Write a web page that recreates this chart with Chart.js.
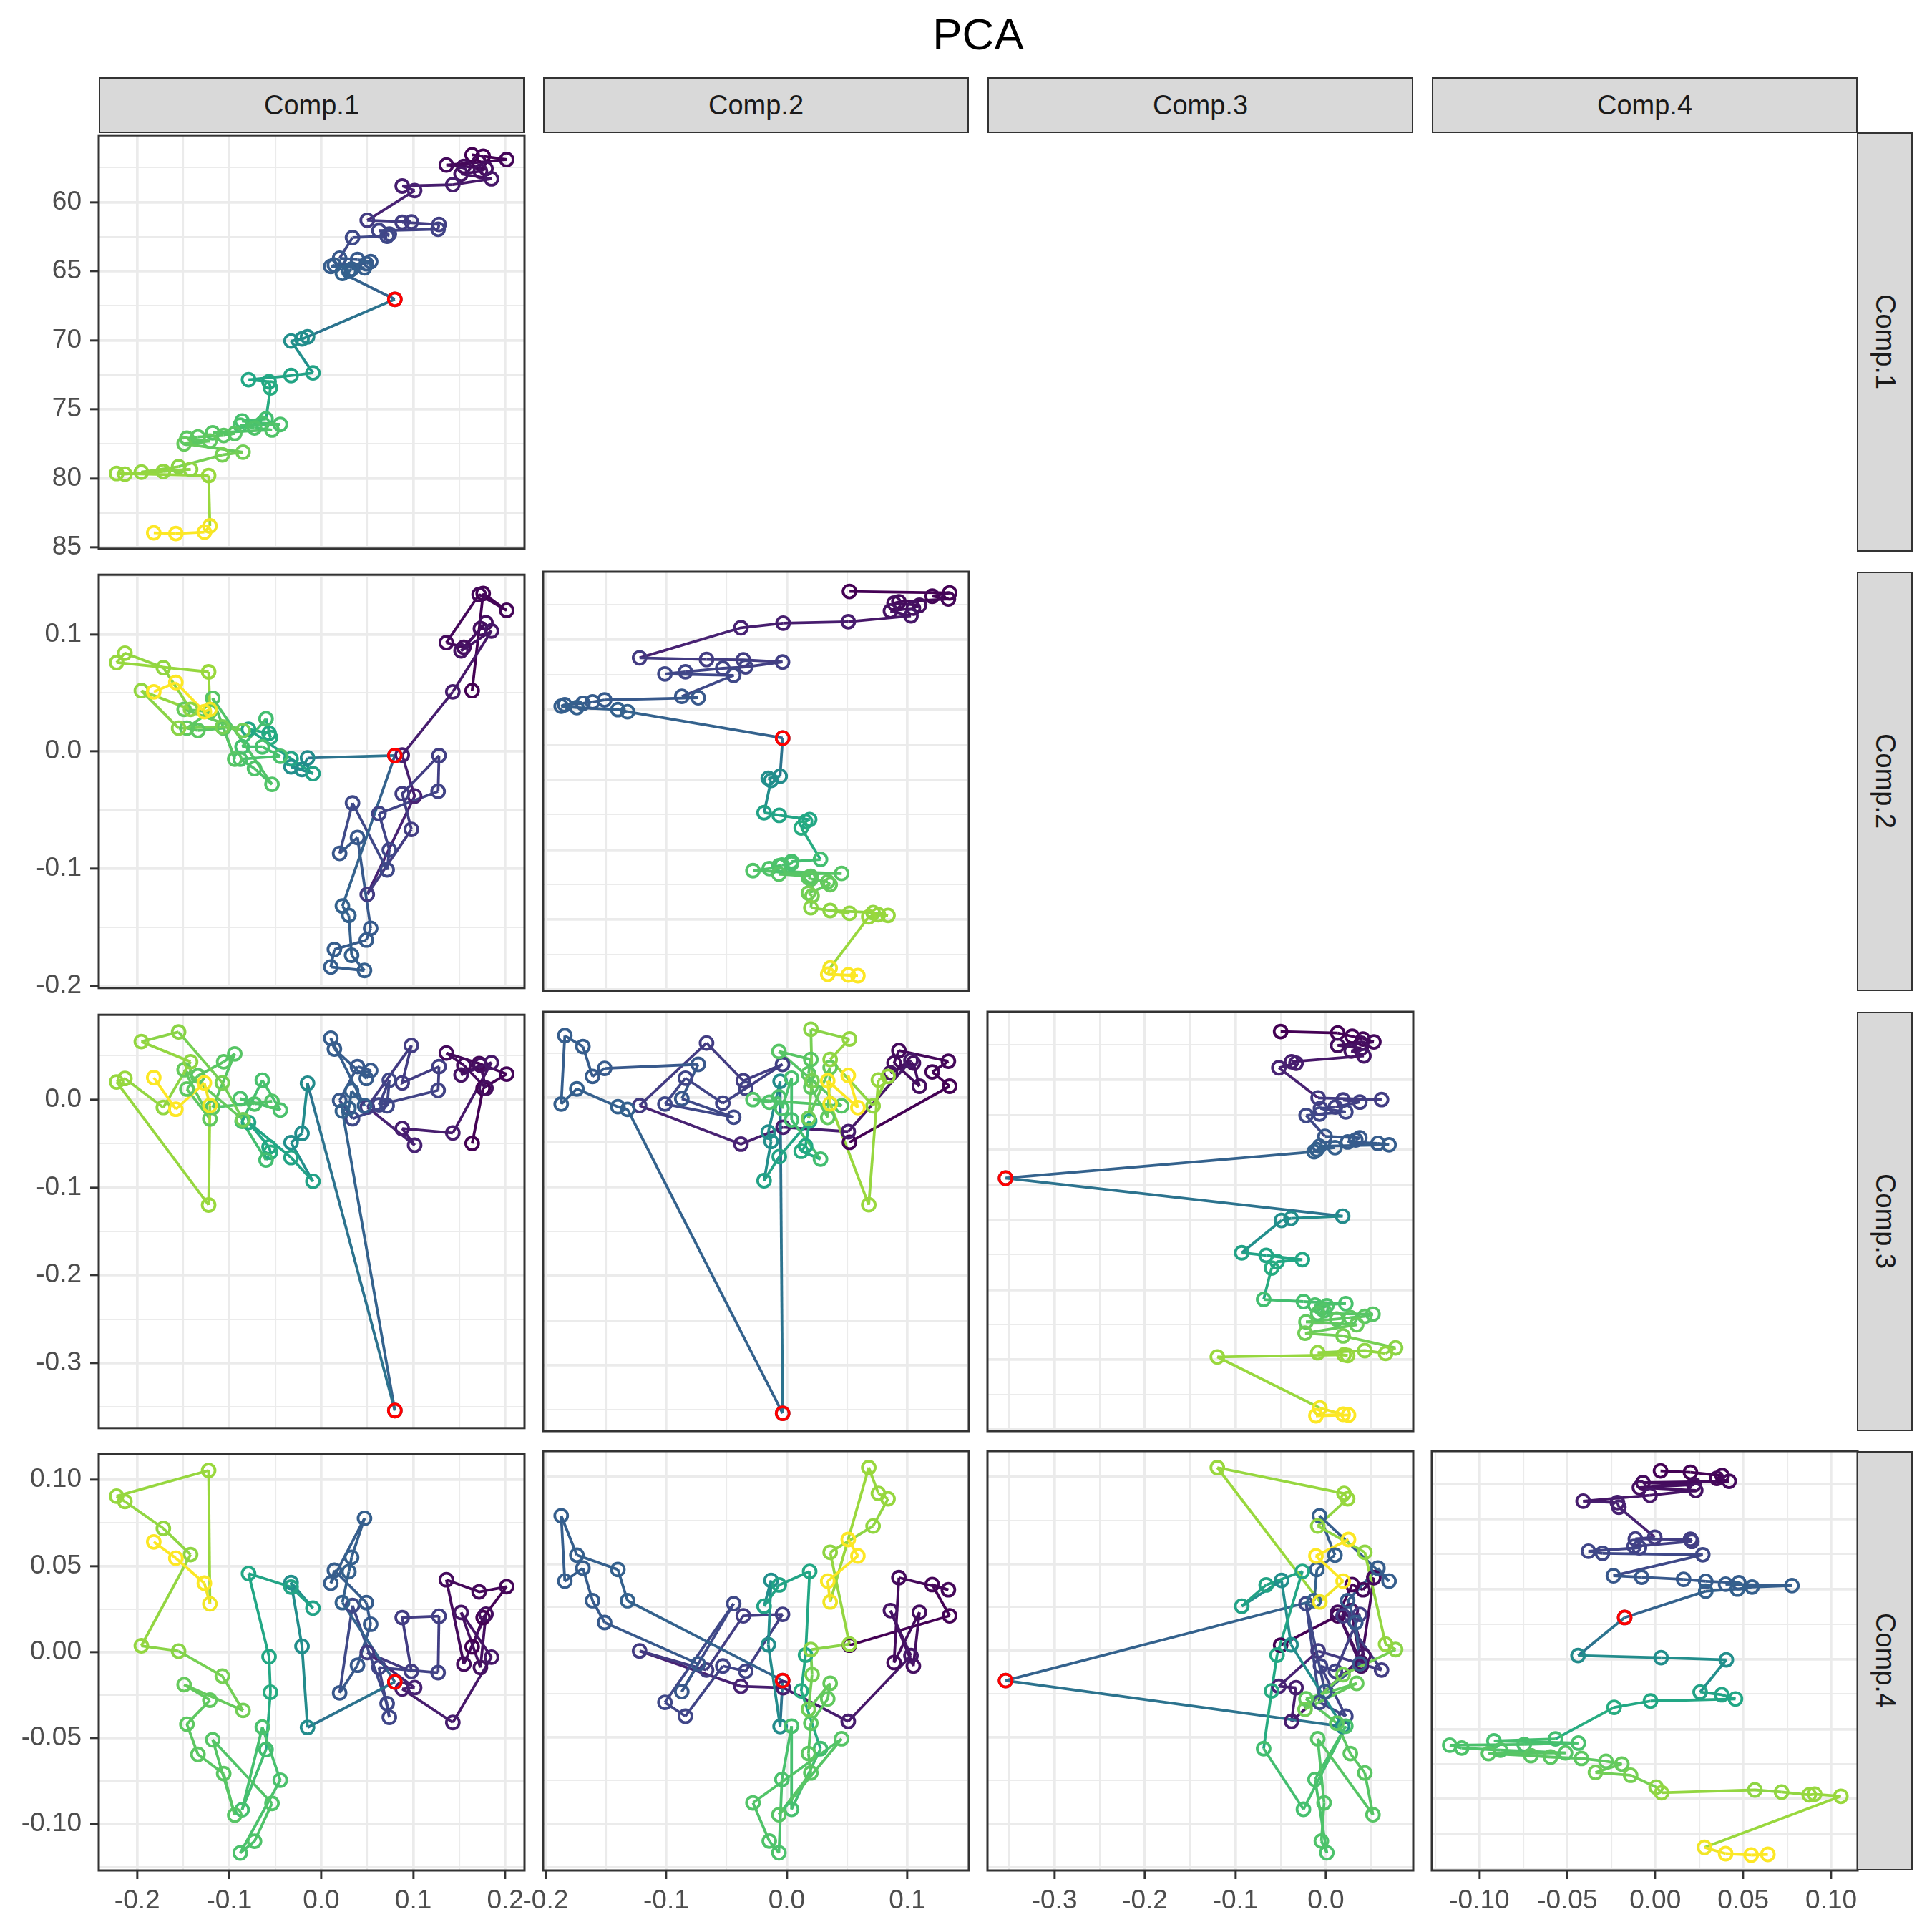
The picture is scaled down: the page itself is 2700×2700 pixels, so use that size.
<!DOCTYPE html>
<html>
<head>
<meta charset="utf-8">
<script src="https://cdn.jsdelivr.net/npm/chart.js@4.4.0/dist/chart.umd.min.js"></script>
<style>
  body { margin: 0; background: #fff; }
  #page { position: relative; width: 2700px; height: 2700px; background: #fff; font-family: "Liberation Sans", Arial, sans-serif; overflow: hidden; }
  #title { position: absolute; left: 0; width: 2734px; top: 17px; font-size: 62px; line-height: 62px; text-align: center; color: #000; }
  .strip { position: absolute; background: #d9d9d9; border: 2.8px solid #333; box-sizing: border-box; color: #1a1a1a; font-size: 38px; display: flex; align-items: center; justify-content: center; }
  .strip.right span { writing-mode: vertical-rl; }
  canvas { position: absolute; }
</style>
</head>
<body>
<div id="page"><div id="title">PCA</div></div>
<script>
// time value of each observation (y axis of the diagonal panels)
const timeVals = [56.56, 56.66, 56.90, 57.10, 57.30, 57.40, 57.55, 57.75, 57.95, 58.30, 58.72, 58.82, 59.15,
  61.30, 61.42, 61.45, 61.60, 61.95, 62.05, 62.30, 62.45, 62.55,
  64.05, 64.15, 64.30, 64.45, 64.55, 64.65, 64.75, 64.85, 65.00, 65.15,
  67.03,
  69.75, 69.90, 70.05,
  72.36, 72.55, 72.85, 73.00, 73.45,
  75.70, 75.85, 76.00, 76.10, 76.15, 76.35, 76.50, 76.70, 76.75, 76.90, 77.00, 77.10, 77.30, 77.50, 78.10, 78.30,
  79.15, 79.55, 79.35, 79.50, 79.70, 79.65, 79.80,
  83.45, 83.90, 84.00, 83.95];

const comp1 = [0.164, 0.176, 0.2015, 0.1716, 0.136, 0.155, 0.179, 0.173, 0.152, 0.185, 0.143, 0.088, 0.1015,
  0.050, 0.098, 0.088, 0.128, 0.127, 0.0627, 0.074, 0.0716, 0.034,
  0.020, 0.0394, 0.0537, 0.049, 0.0143, 0.0104, 0.047, 0.033, 0.030, 0.023,
  0.080,
  -0.0149, -0.0209, -0.0328,
  -0.009, -0.0328, -0.079, -0.0567, -0.0552,
  -0.060, -0.086, -0.064, -0.0445, -0.088, -0.0725, -0.0535, -0.118, -0.094, -0.106, -0.134, -0.146, -0.121, -0.149, -0.085, -0.1075,
  -0.155, -0.1955, -0.142, -0.1716, -0.2134, -0.2224, -0.1224,
  -0.121, -0.127, -0.158, -0.182];

const comp2 = [0.052, 0.135, 0.1206, 0.134, 0.093, 0.089, 0.110, 0.105, 0.086, 0.103, 0.051, -0.003, -0.038,
  -0.122, -0.0665, -0.036, -0.0035, -0.034, -0.053, -0.084, -0.101, -0.044,
  -0.087, -0.0734, -0.151, -0.161, -0.169, -0.184, -0.187, -0.174, -0.140, -0.132,
  -0.0034,
  -0.0055, -0.0153, -0.013,
  -0.0188, -0.0062, 0.019, 0.0156, 0.012,
  0.028, 0.004, 0.004, -0.004, -0.0065, -0.0145, -0.028, 0.0455, -0.0065, 0.020, 0.018, 0.020, 0.034, 0.036, 0.018, 0.021,
  0.020, 0.052, 0.036, 0.0716, 0.084, 0.076, 0.068,
  0.036, 0.034, 0.059, 0.051];

const comp3 = [-0.050, 0.013, 0.029, 0.041, 0.053, 0.039, 0.013, 0.039, 0.028, 0.042, -0.038, -0.033, -0.052,
  -0.0086, 0.0615, 0.019, 0.0375, 0.0105, -0.006, 0.022, -0.007, -0.0218,
  -0.001, 0.0375, 0.033, 0.024, 0.0575, 0.0698, -0.007, 0.010, -0.010, -0.013,
  -0.354,
  0.0185, -0.0385, -0.049,
  -0.093, -0.066, -0.026, -0.054, -0.060,
  -0.0688, -0.0248, 0.022, -0.012, 0.001, -0.005, -0.002, -0.009, 0.052, 0.043, 0.027, 0.012, -0.022, 0.034, -0.023, 0.019,
  0.077, 0.066, 0.043, -0.009, 0.024, 0.020, -0.120,
  -0.0067, 0.019, -0.011, 0.025];

const comp4 = [0.003, 0.020, 0.038, 0.035, 0.042, -0.007, 0.022, -0.009, 0.023, -0.003, -0.041, -0.0215, -0.0207,
  -0.0003, -0.0113, 0.020, 0.0208, -0.012, -0.009, -0.038, -0.030, 0.027,
  -0.0238, -0.0077, 0.0161, 0.0287, 0.0475, 0.040, 0.0777, 0.055, 0.0467, 0.0287,
  -0.0174,
  -0.0439, 0.0033, 0.0404,
  0.0255, 0.0378, 0.0456, -0.0027, -0.0234,
  -0.0567, -0.0917, -0.0437, -0.0745, -0.1168, -0.110, -0.088, -0.051, -0.0948, -0.0707, -0.0595, -0.042, -0.028, -0.019, -0.034, -0.014,
  0.0005, 0.0036, 0.0566, 0.0718, 0.0875, 0.0906, 0.1055,
  0.028, 0.040, 0.0545, 0.064];

// the highlighted observation
const redIndex = 32;

const compNames = ['Comp.1', 'Comp.2', 'Comp.3', 'Comp.4'];
const compRange = [[-0.2418, 0.2209], [-0.202, 0.151], [-0.374, 0.0965], [-0.127, 0.115]];
const compMajor = [[-0.2, -0.1, 0, 0.1, 0.2], [-0.2, -0.1, 0, 0.1], [-0.3, -0.2, -0.1, 0], [-0.1, -0.05, 0, 0.05, 0.1]];
const compLabels = [['-0.2', '-0.1', '0.0', '0.1', '0.2'], ['-0.2', '-0.1', '0.0', '0.1'], ['-0.3', '-0.2', '-0.1', '0.0'], ['-0.10', '-0.05', '0.00', '0.05', '0.10']];
const compMinor = [[-0.15, -0.05, 0.05, 0.15], [-0.15, -0.05, 0.05, 0.15], [-0.35, -0.25, -0.15, -0.05, 0.05], [-0.125, -0.075, -0.025, 0.025, 0.075]];
const timeRange = [55.15, 85.1];
const timeMajor = [60, 65, 70, 75, 80, 85];
const timeLabels = ['60', '65', '70', '75', '80', '85'];
const timeMinor = [57.5, 62.5, 67.5, 72.5, 77.5, 82.5];

const comps = [comp1, comp2, comp3, comp4];

// viridis colour by time
const viridisStops = ['#440154', '#482475', '#414487', '#355f8d', '#2a788e', '#21918c', '#22a884', '#44bf70', '#7ad151', '#bddf26', '#fde725'];
function hexRgb(h) { return [parseInt(h.slice(1, 3), 16), parseInt(h.slice(3, 5), 16), parseInt(h.slice(5, 7), 16)]; }
function viridis(f) {
  f = Math.min(1, Math.max(0, f)) * (viridisStops.length - 1);
  const i = Math.min(Math.floor(f), viridisStops.length - 2);
  const a = hexRgb(viridisStops[i]), b = hexRgb(viridisStops[i + 1]);
  const k = f - i;
  return 'rgb(' + a.map((v, j) => Math.round(v + (b[j] - v) * k)).join(',') + ')';
}
const tMin = Math.min(...timeVals), tMax = Math.max(...timeVals);
const colors = timeVals.map(t => viridis((t - tMin) / (tMax - tMin)));

Chart.defaults.font.family = '"Liberation Sans", Arial, sans-serif';

const panelLeft = [138, 759, 1380, 2001];
const panelTop = [185, 799, 1414, 2028];
const PW = 595, PH = 586;
const page = document.getElementById('page');

const panelBox = {
  id: 'panelBox',
  beforeDraw(chart) {
    const a = chart.chartArea, ctx = chart.ctx;
    ctx.save();
    ctx.fillStyle = '#fff';
    ctx.fillRect(a.left, a.top, a.right - a.left, a.bottom - a.top);
    ctx.restore();
  },
  afterDraw(chart) {
    const a = chart.chartArea, ctx = chart.ctx;
    ctx.save();
    ctx.strokeStyle = '#333333';
    ctx.lineWidth = 3;
    ctx.strokeRect(a.left, a.top, a.right - a.left, a.bottom - a.top);
    ctx.restore();
  }
};

function axisOpts(range, majors, labels, minors, show, size, isX, reverse) {
  const all = majors.concat(minors).sort((a, b) => a - b);
  const isMajor = v => majors.some(m => Math.abs(m - v) < 1e-9);
  return {
    type: 'linear', min: range[0], max: range[1], reverse: !!reverse,
    afterBuildTicks: s => { s.ticks = all.map(v => ({ value: v })); },
    afterFit: s => { if (isX) s.height = size; else s.width = size; },
    border: { display: false },
    grid: {
      color: '#ebebeb',
      lineWidth: ctx => (ctx.tick && isMajor(ctx.tick.value)) ? 3.7 : 2.1,
      drawTicks: show, tickLength: 12, tickWidth: 3,
      tickColor: ctx => (ctx.tick && isMajor(ctx.tick.value)) ? '#333333' : 'rgba(0,0,0,0)'
    },
    ticks: {
      display: show, autoSkip: false, maxRotation: 0, minRotation: 0,
      padding: isX ? 9 : 12, color: '#4d4d4d', font: { size: 37 },
      callback: v => { const k = majors.findIndex(m => Math.abs(m - v) < 1e-9); return k >= 0 ? labels[k] : ''; }
    }
  };
}

function makePanel(r, c) {
  const diag = r === c;
  const xs = comps[c];
  const ys = diag ? timeVals : comps[r];
  const ml = c === 0 ? 138 : 60, mr = 60, mt = 30, mb = r === 3 ? 86 : 30;
  const cv = document.createElement('canvas');
  const w = PW + ml + mr, h = PH + mt + mb;
  cv.width = w; cv.height = h;
  cv.style.left = (panelLeft[c] - ml) + 'px';
  cv.style.top = (panelTop[r] - mt) + 'px';
  cv.style.width = w + 'px'; cv.style.height = h + 'px';
  page.appendChild(cv);

  const pts = xs.map((v, i) => ({ x: v, y: ys[i] }));
  const yAxis = diag
    ? axisOpts(timeRange, timeMajor, timeLabels, timeMinor, c === 0, c === 0 ? 138 : 0, false, true)
    : axisOpts(compRange[r], compMajor[r], compLabels[r], compMinor[r], c === 0, c === 0 ? 138 : 0, false, false);
  const xAxis = axisOpts(compRange[c], compMajor[c], compLabels[c], compMinor[c], r === 3, r === 3 ? 86 : 0, true, false);

  new Chart(cv, {
    type: 'scatter',
    data: {
      datasets: [
        {
          data: [pts[redIndex]],
          pointStyle: 'circle', pointRadius: 9, pointBorderWidth: 3.8,
          pointBorderColor: '#ff0000', pointBackgroundColor: 'rgba(0,0,0,0)',
          showLine: false
        },
        {
          data: pts,
          showLine: true, borderWidth: 3.8, borderColor: colors[0],
          segment: { borderColor: ctx => colors[ctx.p0DataIndex] },
          pointStyle: 'circle', pointRadius: 9, pointBorderWidth: 3.8,
          pointBorderColor: colors, pointBackgroundColor: 'rgba(0,0,0,0)'
        }
      ]
    },
    options: {
      responsive: false, animation: false, devicePixelRatio: 1,
      layout: { padding: { left: c === 0 ? 0 : 60, right: mr, top: mt, bottom: r === 3 ? 0 : 30 } },
      plugins: { legend: { display: false }, tooltip: { enabled: false } },
      scales: { x: xAxis, y: yAxis }
    },
    plugins: [panelBox]
  });
}

for (let r = 0; r < 4; r++) {
  for (let c = 0; c <= r; c++) makePanel(r, c);
}

// facet strips
compNames.forEach((name, i) => {
  const top = document.createElement('div');
  top.className = 'strip';
  top.style.left = panelLeft[i] + 'px'; top.style.top = '108px';
  top.style.width = PW + 'px'; top.style.height = '78px';
  top.textContent = name;
  page.appendChild(top);

  const right = document.createElement('div');
  right.className = 'strip right';
  right.style.left = '2595px'; right.style.top = panelTop[i] + 'px';
  right.style.width = '78px'; right.style.height = PH + 'px';
  const sp = document.createElement('span');
  sp.textContent = name;
  right.appendChild(sp);
  page.appendChild(right);
});
</script>
</body>
</html>
